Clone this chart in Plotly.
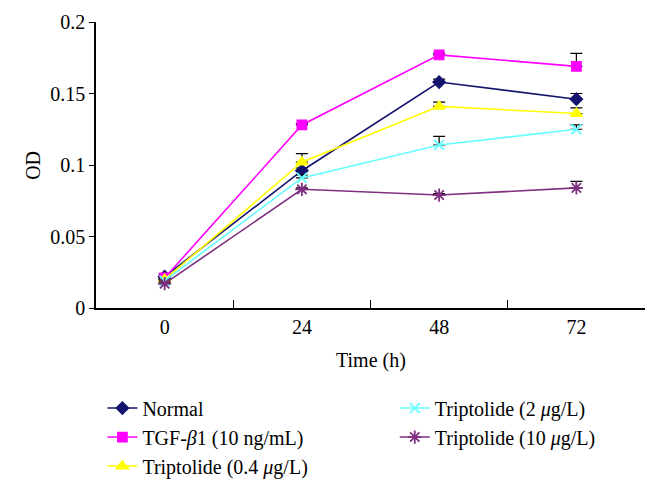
import plotly.graph_objects as go

times = ["0", "24", "48", "72"]
names = ["Normal", "TGF-<i>β</i>1 (10 ng/mL)", "Triptolide (0.4 <i>μ</i>g/L)",
         "Triptolide (2 <i>μ</i>g/L)", "Triptolide (10 <i>μ</i>g/L)"]
normal = [0.022, 0.096, 0.158, 0.146]
tgf = [0.021, 0.128, 0.177, 0.169]
trip04 = [0.020, 0.102, 0.141, 0.136]
trip2 = [0.019, 0.091, 0.114, 0.125]
trip10 = [0.017, 0.083, 0.079, 0.084]
err_normal = [0.002, 0.002, 0.002, 0.004]
err_tgf = [0.001, 0.001, 0.001, 0.009]
err_trip04 = [0.001, 0.006, 0.003, 0.004]
err_trip2 = [0.001, 0.002, 0.006, 0.003]
err_trip10 = [0.001, 0.001, 0.001, 0.0045]

series = [normal, tgf, trip04, trip2, trip10]
errors = [err_normal, err_tgf, err_trip04, err_trip2, err_trip10]
colors = ["#14146e", "#ff00ff", "#ffff00", "#66ffff", "#7f2f7f"]
symbols = ["diamond", "square", "triangle-up", "x-thin-open", "asterisk-open"]
sizes = [9, 9, 10, 10, 11]
legends = ["legend", "legend", "legend", "legend2", "legend2"]

FONT = "Liberation Serif"
fig = go.Figure()
for nm, ys, er, c, s, sz, lg in zip(names, series, errors, colors, symbols, sizes, legends):
    fig.add_trace(go.Scatter(
        x=times, y=ys, name=nm, mode="lines+markers",
        line=dict(color=c, width=1.6),
        marker=dict(symbol=s, size=sz, color=c, line=dict(color=c, width=1.8)),
        error_y=dict(type="data", array=er, arrayminus=[0]*len(er), symmetric=False,
                     color="black", thickness=1.2, width=6),
        legend=lg,
    ))

fig.update_layout(
    width=660, height=491,
    paper_bgcolor="white", plot_bgcolor="white",
    margin=dict(l=88, r=23, t=14, b=191, autoexpand=False),
    font=dict(family=FONT, size=20, color="black"),
    xaxis=dict(
        type="category", range=[-0.5, 3.5], tickson="boundaries",
        ticks="inside", ticklen=8, tickcolor="black", tickwidth=1,
        showline=True, linecolor="black", linewidth=1.5,
        showgrid=False, zeroline=False, automargin=False,
        tickfont=dict(size=20),
    ),
    yaxis=dict(
        range=[0, 0.2], tickvals=[0, 0.05, 0.1, 0.15, 0.2],
        ticktext=["0", "0.05", "0.1", "0.15", "0.2"],
        ticks="outside", ticklen=5, tickcolor="black",
        showline=True, linecolor="black", linewidth=1.5,
        showgrid=False, zeroline=False, automargin=False,
        tickfont=dict(size=20),
    ),
    legend=dict(xref="container", yref="container", x=0.143, y=0.225,
                xanchor="left", yanchor="top", font=dict(size=20),
                bgcolor="rgba(0,0,0,0)", tracegroupgap=0),
    legend2=dict(xref="container", yref="container", x=0.586, y=0.225,
                 xanchor="left", yanchor="top", font=dict(size=20),
                 bgcolor="rgba(0,0,0,0)", tracegroupgap=0),
    annotations=[
        dict(text="OD", xref="paper", yref="paper", x=-0.115, y=0.5,
             xanchor="center", yanchor="middle", textangle=-90, showarrow=False,
             font=dict(size=20)),
        dict(text="Time (h)", xref="paper", yref="paper", x=0.5, y=-0.182,
             xanchor="center", yanchor="middle", showarrow=False,
             font=dict(size=20)),
    ],
)

fig.write_html("out.html")
